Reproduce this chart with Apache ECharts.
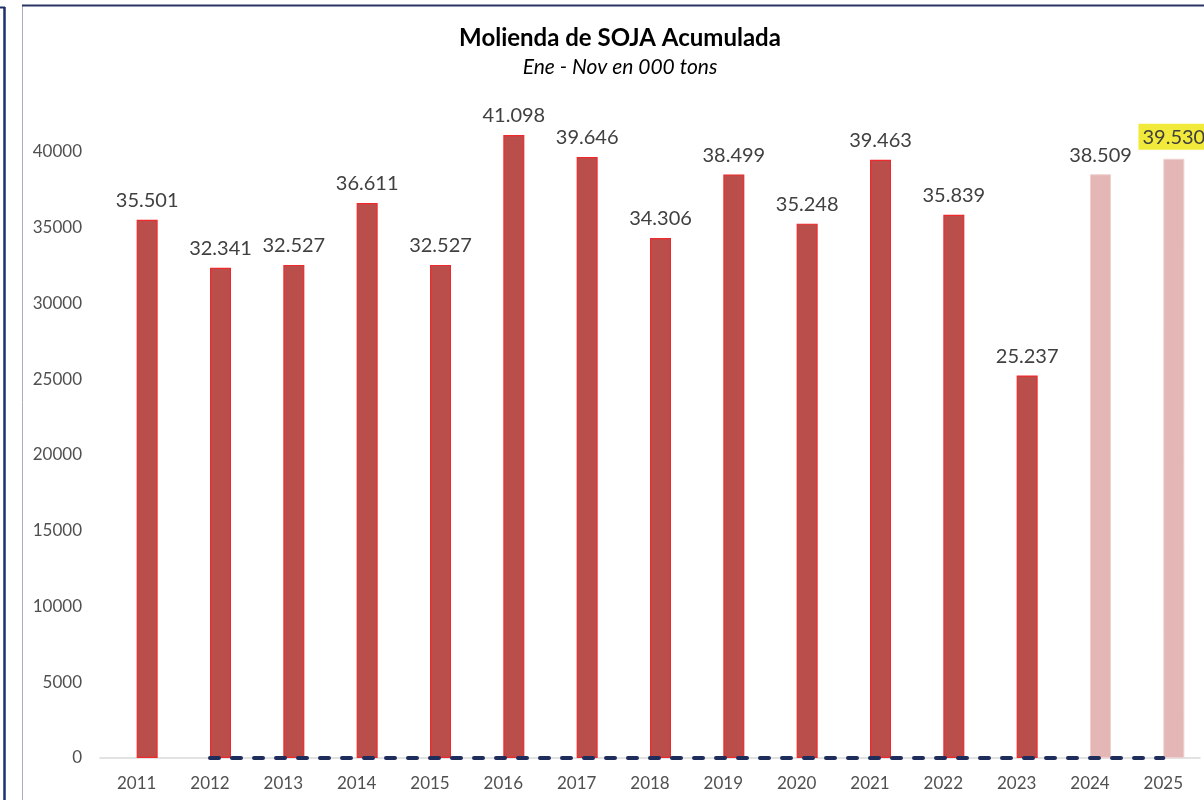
<!DOCTYPE html>
<html><head><meta charset="utf-8">
<script src="https://cdn.jsdelivr.net/npm/echarts@6/dist/echarts.min.js"></script>
<style>html,body{margin:0;padding:0;background:#fff}#c{width:1204px;height:800px}</style>
</head><body><div id="c"></div>
<script>
const years = ['2011','2012','2013','2014','2015','2016','2017','2018','2019','2020','2021','2022','2023','2024','2025'];
const molienda = [35501,32341,32527,36611,32527,41098,39646,34306,38499,35248,39463,35839,25237,38509,39530];
const zeroLine = [null,0,0,0,0,0,0,0,0,0,0,0,0,0,0];
const yTicks = [0,5000,10000,15000,20000,25000,30000,35000,40000];

const FONT = 'Lato';
const fmt = v => v.toLocaleString('en-US').replace(/,/g,'.');
const barData = molienda.map((v,i)=>{
  const light = i >= 13;
  const o = {value:v, itemStyle: light ? {color:'#E4B7B6', borderColor:'#F0D0CF', borderWidth:1} : {color:'#BA4E4B', borderColor:'#EE2A2C', borderWidth:1.2}};
  if (i === 14) o.label = {backgroundColor:'#F2EA3A', padding:[4,4,2,4]};
  return o;
});

const chart = echarts.init(document.getElementById('c'));
chart.setOption({
  animation:false,
  title:{text:'Molienda de SOJA Acumulada', subtext:'Ene - Nov en 000 tons', left:615, textAlign:'center', top:21,
    textStyle:{fontFamily:FONT, fontWeight:'bold', fontSize:24, color:'#000'},
    subtextStyle:{fontFamily:FONT, fontStyle:'italic', fontSize:21, color:'#000'}, itemGap:7},
  grid:{left:100, right:4, top:91, bottom:42, containLabel:false},
  xAxis:{type:'category', data:years,
    axisLine:{lineStyle:{color:'#D9D9D9', width:1.5}}, axisTick:{show:false},
    axisLabel:{fontFamily:FONT, fontSize:17, color:'#505050', margin:17}},
  yAxis:{type:'value', min:0, max:44000, interval:5000,
    axisLine:{show:false}, axisTick:{show:false}, splitLine:{show:false},
    axisLabel:{fontFamily:FONT, fontSize:17, color:'#505050', margin:18, showMaxLabel:false,
      formatter: v => yTicks.includes(v) ? String(v) : ''}},
  series:[
    {type:'bar', data:years.map(()=>null), barWidth:21, barGap:'0%', silent:true},
    {type:'bar', data:barData, barWidth:21, barGap:'0%', clip:false,
      label:{show:true, position:'top', distance:9, fontFamily:FONT, fontSize:20, color:'#404040',
        formatter: p => fmt(p.value)}},
    {type:'line', data:zeroLine, symbol:'none', lineStyle:{color:'#1F2D5C', width:4, type:[9,13], cap:'round'}, z:5}
  ],
  graphic:[
    {type:'line', shape:{x1:4.5,y1:7,x2:4.5,y2:800}, style:{stroke:'#1F2F6B', lineWidth:2.5}},
    {type:'line', shape:{x1:0,y1:7.5,x2:5,y2:7.5}, style:{stroke:'#1F2F6B', lineWidth:2}},
    {type:'line', shape:{x1:22.5,y1:5,x2:22.5,y2:800}, style:{stroke:'#A9ADC4', lineWidth:1}},
    {type:'line', shape:{x1:22,y1:5.5,x2:1204,y2:5.5}, style:{stroke:'#2A3566', lineWidth:2}}
  ]
});
</script></body></html>
